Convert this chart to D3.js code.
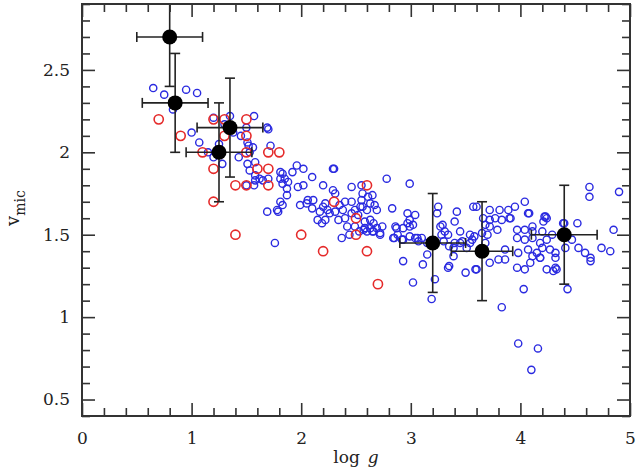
<!DOCTYPE html>
<html>
<head>
<meta charset="utf-8">
<script src="https://cdn.jsdelivr.net/npm/d3@7"></script>
<style>
  body { margin: 0; background: #fff; }
  svg { display: block; }
  text { font-family: "DejaVu Serif", serif; fill: #222; }
</style>
</head>
<body>
<svg width="637" height="468"></svg>
<script>
const width = 637;
const height = 468;
const margin = { left: 82, right: 7, top: 4, bottom: 52 };

// blue sample (log g, v_mic)
const blueX = [0.65,0.75,0.83,0.95,1.05,1.0,1.07,1.2,1.2,1.28,1.35,1.43,1.5,1.52,1.57,1.69,1.3,1.38,1.45,1.15,1.25,
  1.70,1.51,1.56,1.53,1.51,1.58,1.53,1.58,1.62,1.58,1.72,1.81,1.83,1.81,1.85,1.83,1.88,1.92,1.87,1.87,1.96,2.02,2.1,1.97,2.02,
  2.29,2.2,2.29,2.31,2.46,2.55,1.81,1.83,1.79,1.78,1.69,1.99,2.05,2.1,2.11,2.06,2.22,2.2,2.24,2.17,2.26,2.15,2.22,2.19,
  2.35,2.38,2.4,2.46,2.49,2.54,2.55,2.31,2.34,2.4,2.46,2.52,2.42,2.49,1.76,1.65,1.7,1.5,1.57,2.3,
  2.78,2.99,2.56,2.61,2.65,2.63,2.67,2.6,2.69,2.56,2.83,2.58,2.63,2.66,2.58,2.63,2.69,2.74,2.6,2.66,2.72,
  2.86,2.87,2.93,2.97,2.97,3.04,2.99,3.02,2.99,2.88,2.93,2.84,3.06,3.1,3.15,3.25,3.24,3.42,3.4,3.57,
  3.27,3.29,3.31,3.34,3.28,3.45,3.54,3.56,3.39,3.45,3.51,
  2.93,3.11,3.02,3.22,3.19,3.34,3.5,3.59,3.39,3.15,3.35,
  2.37,2.44,2.53,2.57,2.65,2.72,2.85,2.92,2.99,3.04,3.07,3.3,3.35,3.4,3.47,3.54,3.58,
  3.6,3.72,3.81,3.89,3.95,4.04,3.9,4.08,4.22,4.24,4.4,4.52,4.63,4.63,4.9,4.85,
  4.07,3.66,3.72,3.77,3.83,3.91,4.23,4.21,3.68,3.72,3.79,3.97,4.04,4.11,4.11,4.2,4.29,4.47,4.39,
  3.65,3.7,3.68,3.97,4.04,4.11,4.18,4.24,4.32,4.41,4.53,4.59,4.74,4.82,
  3.86,3.98,4.07,4.15,4.2,4.27,4.18,4.64,
  3.6,3.72,3.8,3.86,3.97,4.04,4.09,4.18,4.11,4.24,4.3,4.32,4.33,4.32,4.64,4.03,4.43,3.83,3.98,4.16,4.1];
const blueY = [2.39,2.35,2.26,2.38,2.36,2.12,2.06,2.21,1.97,1.93,2.22,1.97,2.15,2.04,2.22,2.15,2.17,2.12,2.1,2.0,2.05,
  2.14,2.06,2.03,2.0,1.93,1.94,1.89,1.86,1.84,1.83,2.04,1.88,1.87,1.84,1.84,1.81,1.82,1.88,1.78,1.74,1.92,1.9,1.85,1.79,1.8,
  1.9,1.8,1.77,1.75,1.79,1.8,1.7,1.68,1.64,1.65,1.64,1.68,1.69,1.66,1.71,1.71,1.69,1.67,1.65,1.64,1.63,1.59,1.59,1.57,
  1.68,1.65,1.7,1.7,1.65,1.67,1.71,1.64,1.59,1.6,1.63,1.62,1.55,1.55,1.45,1.83,1.84,1.8,1.8,1.9,
  1.84,1.81,1.75,1.73,1.74,1.69,1.68,1.65,1.65,1.67,1.66,1.58,1.59,1.57,1.54,1.54,1.54,1.55,1.52,1.52,1.5,
  1.55,1.54,1.54,1.57,1.63,1.62,1.59,1.56,1.55,1.5,1.47,1.48,1.48,1.48,1.45,1.67,1.63,1.64,1.58,1.67,
  1.55,1.56,1.52,1.5,1.5,1.52,1.5,1.47,1.42,1.45,1.42,
  1.34,1.32,1.21,1.23,1.11,1.3,1.27,1.29,1.37,1.38,1.31,
  1.48,1.5,1.52,1.53,1.52,1.51,1.48,1.47,1.49,1.48,1.46,1.46,1.43,1.45,1.46,1.45,1.49,
  1.67,1.65,1.65,1.65,1.67,1.7,1.6,1.63,1.61,1.6,1.57,1.57,1.79,1.73,1.76,1.53,
  1.63,1.6,1.59,1.6,1.59,1.6,1.61,1.58,1.56,1.55,1.53,1.53,1.53,1.55,1.52,1.52,1.5,1.47,1.57,
  1.51,1.5,1.45,1.48,1.47,1.48,1.45,1.47,1.39,1.42,1.42,1.39,1.42,1.4,
  1.41,1.39,1.41,1.39,1.42,1.41,1.36,1.36,
  1.29,1.33,1.35,1.35,1.3,1.29,1.33,1.36,1.37,1.29,1.28,1.3,1.29,1.36,1.34,1.17,1.17,1.06,0.84,0.81,0.68];

// red sample
const redX = [0.7,0.9,1.1,1.2,1.3,1.2,1.2,1.3,1.4,1.5,1.5,1.5,1.5,1.6,1.7,1.7,1.8,1.7,1.4,2.0,2.2,2.3,2.5,2.5,2.6,2.6,2.7];
const redY = [2.2,2.1,2.0,2.2,2.2,1.9,1.7,2.1,1.8,1.8,2.2,2.1,2.0,1.9,1.9,1.8,2.0,2.0,1.5,1.5,1.4,1.7,1.6,1.5,1.8,1.4,1.2];

// binned means with error bars
const binX = [0.8, 0.85, 1.25, 1.35, 3.2, 3.65, 4.4];
const binY = [2.7, 2.3, 2.0, 2.15, 1.45, 1.4, 1.5];
const binXErr = [0.3, 0.3, 0.3, 0.3, 0.3, 0.28, 0.3];
const binYErr = [0.3, 0.3, 0.3, 0.3, 0.3, 0.3, 0.3];

const xTicks = [0, 1, 2, 3, 4, 5];
const yTicks = [0.5, 1, 1.5, 2, 2.5];

const svg = d3.select("svg");

const x = d3.scaleLinear().domain([0, 5]).range([margin.left, width - margin.right]);
const y = d3.scaleLinear().domain([0.4, 2.9]).range([height - margin.bottom, margin.top]);

svg.append("clipPath").attr("id", "plot-clip")
  .append("rect")
  .attr("x", x(0)).attr("y", y(2.9))
  .attr("width", x(5) - x(0)).attr("height", y(0.4) - y(2.9));

const plot = svg.append("g").attr("clip-path", "url(#plot-clip)");

plot.selectAll("circle.blue")
  .data(d3.zip(blueX, blueY))
  .join("circle")
  .attr("class", "blue")
  .attr("cx", d => x(d[0]))
  .attr("cy", d => y(d[1]))
  .attr("r", 3.6)
  .attr("fill", "none")
  .attr("stroke", "#2a2ae0")
  .attr("stroke-width", 1.4);

plot.selectAll("circle.red")
  .data(d3.zip(redX, redY))
  .join("circle")
  .attr("class", "red")
  .attr("cx", d => x(d[0]))
  .attr("cy", d => y(d[1]))
  .attr("r", 4.6)
  .attr("fill", "none")
  .attr("stroke", "#e52a2a")
  .attr("stroke-width", 1.6);

// error bars
const bins = d3.range(binX.length).map(i => ({ x: binX[i], y: binY[i], ex: binXErr[i], ey: binYErr[i] }));
const cap = 5;
const eb = plot.selectAll("g.eb").data(bins).join("g").attr("class", "eb")
  .attr("stroke", "#222").attr("stroke-width", 1.6);
eb.append("line")
  .attr("x1", d => x(d.x - d.ex)).attr("x2", d => x(d.x + d.ex))
  .attr("y1", d => y(d.y)).attr("y2", d => y(d.y));
eb.append("line")
  .attr("x1", d => x(d.x)).attr("x2", d => x(d.x))
  .attr("y1", d => y(d.y - d.ey)).attr("y2", d => y(d.y + d.ey));
// caps
eb.append("line")
  .attr("x1", d => x(d.x - d.ex)).attr("x2", d => x(d.x - d.ex))
  .attr("y1", d => y(d.y) - cap).attr("y2", d => y(d.y) + cap);
eb.append("line")
  .attr("x1", d => x(d.x + d.ex)).attr("x2", d => x(d.x + d.ex))
  .attr("y1", d => y(d.y) - cap).attr("y2", d => y(d.y) + cap);
eb.append("line")
  .attr("x1", d => x(d.x) - cap).attr("x2", d => x(d.x) + cap)
  .attr("y1", d => y(d.y - d.ey)).attr("y2", d => y(d.y - d.ey));
eb.append("line")
  .attr("x1", d => x(d.x) - cap).attr("x2", d => x(d.x) + cap)
  .attr("y1", d => y(d.y + d.ey)).attr("y2", d => y(d.y + d.ey));
eb.append("circle")
  .attr("cx", d => x(d.x)).attr("cy", d => y(d.y))
  .attr("r", 7.5).attr("fill", "#000").attr("stroke", "none");

// axes: ticks inside on all four sides
const major = 13, minor = 8;
const xMinor = d3.range(0, 5.001, 0.2).filter(v => Math.abs(v - Math.round(v)) > 1e-6);
const yMinor = d3.range(0.4, 2.9001, 0.1).filter(v => Math.abs(v * 2 - Math.round(v * 2)) > 1e-6);

function axisG(axis) {
  return svg.append("g").call(axis).call(g => g.select(".domain").remove())
    .call(g => g.selectAll("line").attr("stroke", "#333").attr("stroke-width", 1.6));
}
const fmt = d => d3.format("")(d);
axisG(d3.axisBottom(x).tickValues(xTicks).tickSize(-major).tickPadding(0).tickFormat(fmt))
  .attr("transform", `translate(0,${y(0.4)})`)
  .call(g => g.selectAll("text").attr("dy", 0).attr("y", 28).attr("font-size", 17));
axisG(d3.axisBottom(x).tickValues(xMinor).tickSize(-minor).tickFormat(""))
  .attr("transform", `translate(0,${y(0.4)})`);
axisG(d3.axisTop(x).tickValues(xTicks).tickSize(-major).tickFormat(""))
  .attr("transform", `translate(0,${y(2.9)})`);
axisG(d3.axisTop(x).tickValues(xMinor).tickSize(-minor).tickFormat(""))
  .attr("transform", `translate(0,${y(2.9)})`);
axisG(d3.axisLeft(y).tickValues(yTicks).tickSize(-major).tickPadding(0).tickFormat(fmt))
  .attr("transform", `translate(${x(0)},0)`)
  .call(g => g.selectAll("text").attr("x", -12).attr("font-size", 17));
axisG(d3.axisLeft(y).tickValues(yMinor).tickSize(-minor).tickFormat(""))
  .attr("transform", `translate(${x(0)},0)`);
axisG(d3.axisRight(y).tickValues(yTicks).tickSize(-major).tickFormat(""))
  .attr("transform", `translate(${x(5)},0)`);
axisG(d3.axisRight(y).tickValues(yMinor).tickSize(-minor).tickFormat(""))
  .attr("transform", `translate(${x(5)},0)`);

svg.selectAll(".tick text").attr("fill", "#222").style("font-family", "DejaVu Serif, serif");

// frame
svg.append("rect")
  .attr("x", x(0)).attr("y", y(2.9))
  .attr("width", x(5) - x(0)).attr("height", y(0.4) - y(2.9))
  .attr("fill", "none").attr("stroke", "#333").attr("stroke-width", 2);

// axis titles
const xt = svg.append("text")
  .attr("x", 356).attr("y", 463)
  .attr("text-anchor", "middle").attr("font-size", 17);
xt.append("tspan").text("log");
xt.append("tspan").attr("dx", 8).attr("font-style", "italic").text("g");

const yt = svg.append("text")
  .attr("transform", "translate(19,208) rotate(-90)")
  .attr("text-anchor", "middle").attr("font-size", 18);
yt.append("tspan").text("v");
yt.append("tspan").attr("dy", 6).attr("font-size", 14).text("mic");
</script>
</body>
</html>
